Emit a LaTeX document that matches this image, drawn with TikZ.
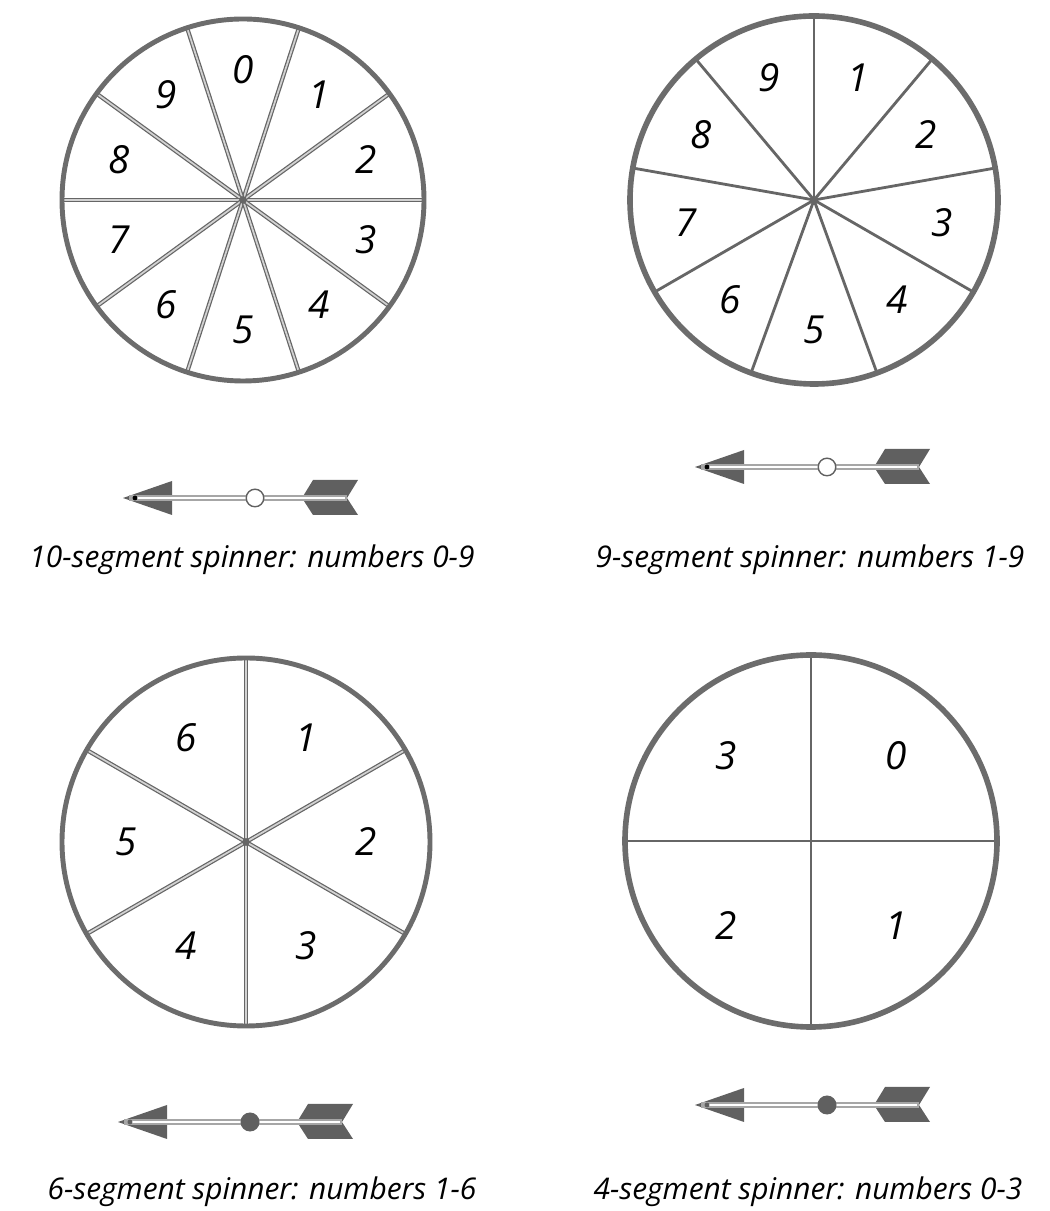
\documentclass[tikz,border=0pt]{standalone}
\usepackage{fontspec}
\setmainfont{Open Sans}
\usepackage{xcolor}
\usepackage{tikz}
\usetikzlibrary{positioning}

\begin{document}
\begin{tikzpicture}[x=0.02cm,y=0.02cm,
      rim/.style={draw=gray!85!black,line width=2.8pt},
      spoke/.style={draw=gray!80!black,line width=0.7pt,double=gray!35,double distance=1pt},
      thinspoke/.style={draw=gray!80!black,line width=1.6pt},
      num/.style={font=\fontsize{22}{22}\selectfont\itshape},
      caption/.style={font=\fontsize{17}{17}\selectfont\itshape},
      fin/.style={fill=gray!75!black,draw=none},
      shaft/.style={draw=gray!70,line width=3.4pt},
      hub/.style={circle,draw=gray!75!black,line width=0.8pt,inner sep=0pt,minimum size=10pt}]
  \useasboundingbox (0,0) rectangle (1050,1211);
  \coordinate (c10) at (243,1011);
  \coordinate (c9) at (814,1011);
  \coordinate (c6) at (246,369);
  \coordinate (c4) at (811,370);

  \foreach \a in {0,36,...,324} \draw[spoke] (c10) -- ([shift={(\a:181)}]c10);
  \draw[rim] (c10) circle (181);
  \fill[gray!80!black] (c10) circle (2.2pt);
  \foreach \d in {0,...,9} \node[num] (ten-\d) at ([shift={(90-36*\d:130)}]c10) {\d};

  \foreach \a in {90,50,...,-230} \draw[thinspoke] (c9) -- ([shift={(\a:184)}]c9);
  \draw[rim,line width=3.2pt] (c9) circle (184);
  \fill[gray!80!black] (c9) circle (2.2pt);
  \foreach \d in {1,...,9} \node[num] (nine-\d) at ([shift={(110-40*\d:130)}]c9) {\d};

  \foreach \a in {90,30,...,-210} \draw[spoke] (c6) -- ([shift={(\a:184)}]c6);
  \draw[rim] (c6) circle (184);
  \fill[gray!80!black] (c6) circle (2.2pt);
  \foreach \d in {1,...,6} \node[num] (six-\d) at ([shift={(120-60*\d:120)}]c6) {\d};

  \foreach \a in {0,90,180,270} \draw[thinspoke] (c4) -- ([shift={(\a:186)}]c4);
  \draw[rim,line width=3.2pt] (c4) circle (186);
  \foreach \d in {0,...,3} \node[num] (four-\d) at ([shift={(45-90*\d:120)}]c4) {\d};

  \foreach \ax/\ay/\hf/\dc/\nm in {123/713/white/black/arr10, 695/744/white/black/arr9,
      118/89/gray!75!black/gray!75!black/arr6, 695/106/gray!75!black/gray!75!black/arr4}{
    \begin{scope}[shift={(\ax,\ay)}]
      \fill[fin] (0,0) -- (49,17) -- (49,-17) -- cycle;
      \fill[fin] (179,0) -- (190,18) -- (235,18) -- (224,0) -- (235,-17) -- (190,-17) -- cycle;
      \draw[shaft] (6,0) -- (224,0);
      \draw[white,line width=1.3pt] (14,0) -- (222,0);
      \fill[\dc] (12,0) circle (1.4pt);
      \node[hub,fill=\hf] (\nm-hub) at (132,0) {};
    \end{scope}
  }

  \node[caption] (cap10) at (252,651) {10-segment spinner: numbers 0-9};
  \node[caption] (cap9) at (810,651) {9-segment spinner: numbers 1-9};
  \node[caption] (cap6) at (262,19) {6-segment spinner: numbers 1-6};
  \node[caption] (cap4) at (808,19) {4-segment spinner: numbers 0-3};
\end{tikzpicture}
\end{document}
